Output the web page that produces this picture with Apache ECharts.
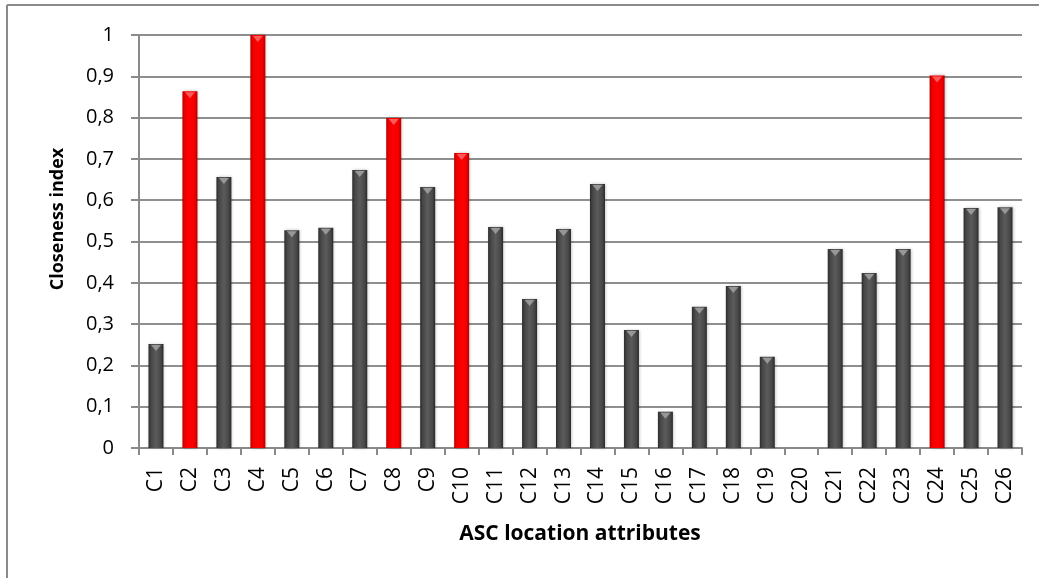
<!DOCTYPE html>
<html>
<head>
<meta charset="utf-8">
<script src="https://cdn.jsdelivr.net/npm/echarts@6/dist/echarts.min.js"></script>
<style>
html,body{margin:0;padding:0;background:#fff;}
#c{width:1039px;height:578px;}
</style>
</head>
<body>
<div id="c"></div>
<script>
var categories = ['C1','C2','C3','C4','C5','C6','C7','C8','C9','C10','C11','C12','C13','C14','C15','C16','C17','C18','C19','C20','C21','C22','C23','C24','C25','C26'];
var values = [0.252,0.864,0.656,1.0,0.527,0.533,0.673,0.799,0.632,0.714,0.535,0.361,0.530,0.639,0.286,0.088,0.342,0.392,0.221,0,0.482,0.424,0.482,0.902,0.581,0.583];
var highlighted = ['C2','C4','C8','C10','C24'];
var yTickLabels = ['0','0,1','0,2','0,3','0,4','0,5','0,6','0,7','0,8','0,9','1'];
var yTitle = 'Closeness index';
var xTitle = 'ASC location attributes';

var grayGrad = new echarts.graphic.LinearGradient(0,0,1,0,[
  {offset:0,color:'#2c2c2c'},{offset:0.18,color:'#474747'},{offset:0.5,color:'#5b5b5b'},{offset:0.82,color:'#474747'},{offset:1,color:'#2a2a2a'}]);
var redGrad = new echarts.graphic.LinearGradient(0,0,1,0,[
  {offset:0,color:'#b80000'},{offset:0.18,color:'#f00000'},{offset:0.5,color:'#ff0000'},{offset:0.82,color:'#f00000'},{offset:1,color:'#b40000'}]);

var barData = values.map(function(v,i){
  var hi = highlighted.indexOf(categories[i]) >= 0;
  return {value:v, itemStyle:{color: hi ? redGrad : grayGrad}};
});
var capData = values.map(function(v,i){
  var hi = highlighted.indexOf(categories[i]) >= 0;
  return v > 0 ? {value:v, itemStyle:{color: hi ? '#ff7070' : '#a8a8a8'}} : '-';
});

var chart = echarts.init(document.getElementById('c'), null, {renderer:'canvas'});
chart.setOption({
  animation:false,
  backgroundColor:'#fff',
  grid:{left:139,right:17,top:35,bottom:130,containLabel:false},
  xAxis:{
    type:'category',
    data:categories,
    axisLine:{lineStyle:{color:'#8a8a8a',width:2}},
    axisTick:{show:true,length:7,lineStyle:{color:'#8a8a8a',width:2}},
    axisLabel:{rotate:90,margin:19,fontFamily:'Open Sans',fontSize:21,color:'#000'}
  },
  yAxis:{
    type:'value',min:0,max:1,interval:0.1,
    axisLine:{show:true,lineStyle:{color:'#8a8a8a',width:2}},
    axisTick:{show:true,length:8,lineStyle:{color:'#8a8a8a',width:2}},
    splitLine:{show:true,lineStyle:{color:'#8f8f8f',width:2}},
    axisLabel:{margin:25,fontFamily:'Open Sans',fontSize:20,color:'#000',
      formatter:function(v){return yTickLabels[Math.round(v*10)];}}
  },
  series:[
    {type:'bar',data:barData,barWidth:15,
      itemStyle:{shadowBlur:3,shadowColor:'rgba(0,0,0,0.25)',shadowOffsetX:1,shadowOffsetY:0}},
    {type:'scatter',data:capData,symbol:'triangle',symbolRotate:180,symbolSize:[10,6],symbolOffset:[0,4],z:5,silent:true}
  ],
  graphic:[
    {type:'line',shape:{x1:7,y1:5,x2:1039,y2:5},style:{stroke:'#8a8a8a',lineWidth:2}},
    {type:'line',shape:{x1:7,y1:5,x2:7,y2:578},style:{stroke:'#8a8a8a',lineWidth:2}},
    {type:'text',x:58,y:219,rotation:Math.PI/2,
      style:{text:yTitle,fontFamily:'Open Sans',fontWeight:'bold',fontSize:18,fill:'#000',align:'center',verticalAlign:'middle'}},
    {type:'text',x:580,y:534,
      style:{text:xTitle,fontFamily:'Open Sans',fontWeight:'bold',fontSize:21,fill:'#000',align:'center',verticalAlign:'middle'}}
  ]
});
</script>
</body>
</html>
